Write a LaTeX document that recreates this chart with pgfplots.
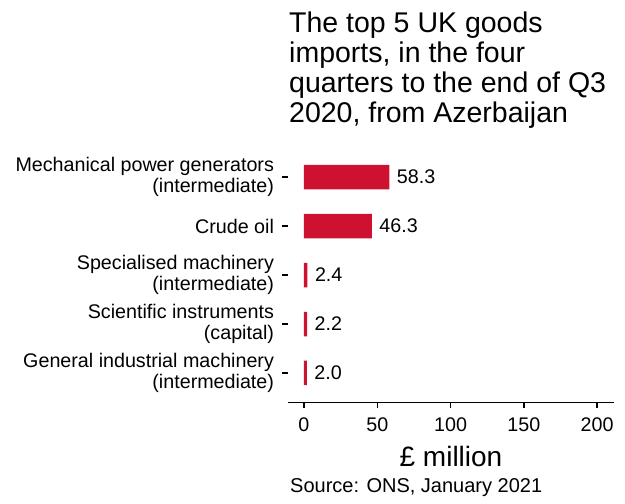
\documentclass[border=0pt]{standalone}
\usepackage{fontspec}
\setmainfont{Liberation Sans}
\usepackage{pgfplots}
\pgfplotsset{compat=1.18}
\definecolor{barred}{RGB}{206,17,48}

\begin{document}
\begin{tikzpicture}[x=1pt,y=1pt]
\useasboundingbox (0,0) rectangle (625,504);
\begin{axis}[
    scale only axis,
    width=326pt, height=254.8pt,
    anchor=south west, at={(288pt,101.6pt)},
    xbar, bar width=0.5,
    xmin=-10.9, xmax=211.5,
    ymin=0.4, ymax=5.6,
    axis x line*=bottom, axis y line*=left,
    x axis line style={-, line width=1.3pt},
    y axis line style={draw=none},
    tick align=outside,
    major tick length=5.5pt,
    tick style={black, line width=1.3pt},
    xtick={0,50,100,150,200},
    ytick={1,2,3,4,5},
    yticklabels={{General industrial machinery\\(intermediate)},
                 {Scientific instruments\\(capital)},
                 {Specialised machinery\\(intermediate)},
                 {Crude oil},
                 {Mechanical power generators\\(intermediate)}},
    yticklabel style={align=right, xshift=-5pt, font=\fontsize{19.7}{21.5}\selectfont},
    xticklabel style={yshift=-6pt, font=\fontsize{19.7}{21.5}\selectfont},
    /pgf/number format/assume math mode=true,
    xlabel={\pounds{} million},
    xlabel style={yshift=-8pt, font=\fontsize{28}{30}\selectfont},
    point meta=explicit symbolic,
    nodes near coords,
    every node near coord/.append style={anchor=west, xshift=4pt, font=\fontsize{19.7}{21.5}\selectfont, black},
]
\addplot[fill=barred, draw=none] coordinates {
    (2.0,1) [2.0]
    (2.2,2) [2.2]
    (2.4,3) [2.4]
    (46.3,4) [46.3]
    (58.3,5) [58.3]
};
\end{axis}
\node[anchor=north west, align=left, font=\fontsize{28.5}{30}\selectfont, inner sep=0pt]
    at (289,492) {The top 5 UK goods\\imports, in the four\\quarters to the end of Q3\\2020, from Azerbaijan};
\node[anchor=base west, font=\fontsize{20}{22}\selectfont, inner sep=0pt]
    at (290,11) {Source: ONS, January 2021};
\end{tikzpicture}
\end{document}
